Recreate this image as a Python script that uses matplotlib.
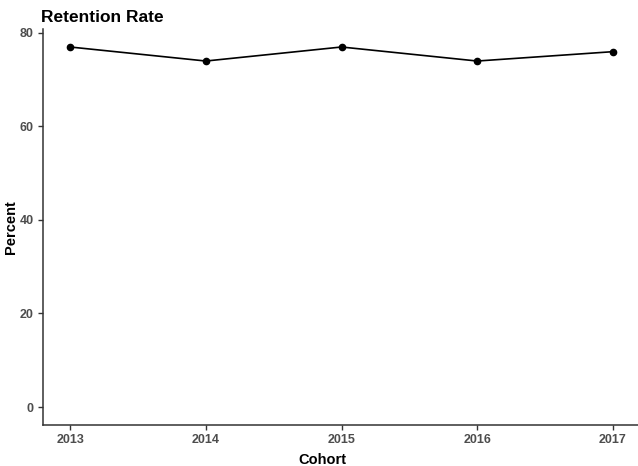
import matplotlib
matplotlib.use("Agg")
import matplotlib.pyplot as plt

cohorts = [2013, 2014, 2015, 2016, 2017]
percent = [77, 74, 77, 74, 76]
yticks = [0, 20, 40, 60, 80]

plt.rcParams['font.family'] = ['Liberation Sans', 'DejaVu Sans']

fig = plt.figure(figsize=(6.38, 4.66), dpi=100)
W, H = 638, 466
left, right, top, bottom = 43, 640, 29, 425
ax = fig.add_axes([left / W, 1 - bottom / H, (right - left) / W, (bottom - top) / H])

ax.plot(cohorts, percent, color='black', lw=1.2, marker='o', ms=4.5, zorder=3)

ax.set_xlim(2012.8, 2017.2)
ymax = max(percent)
ax.set_ylim(-0.05 * ymax, ymax * 1.05)
ax.set_xticks(cohorts)
ax.set_xticklabels([str(c) for c in cohorts])
ax.set_yticks(yticks)

for s in ['top', 'right']:
    ax.spines[s].set_visible(False)
for s in ['left', 'bottom']:
    ax.spines[s].set_color('#333333')
    ax.spines[s].set_linewidth(1.1)

ax.tick_params(axis='both', direction='out', length=3.5, width=1, color='#333333',
               labelcolor='#4D4D4D', labelsize=9, pad=3)
for lab in ax.get_xticklabels() + ax.get_yticklabels():
    lab.set_fontweight('bold')

fig.text(322 / W, 1 - 464 / H, 'Cohort', fontsize=10.5, fontweight='bold',
         ha='center', va='baseline')
fig.text(11 / W, 1 - 227 / H, 'Percent', fontsize=10.5, fontweight='bold',
         ha='center', va='center', rotation=90)
fig.text(41 / W, 1 - 22 / H, 'Retention Rate', fontsize=12.5, fontweight='bold',
         ha='left', va='baseline')

fig.savefig('out.png', dpi=100)
